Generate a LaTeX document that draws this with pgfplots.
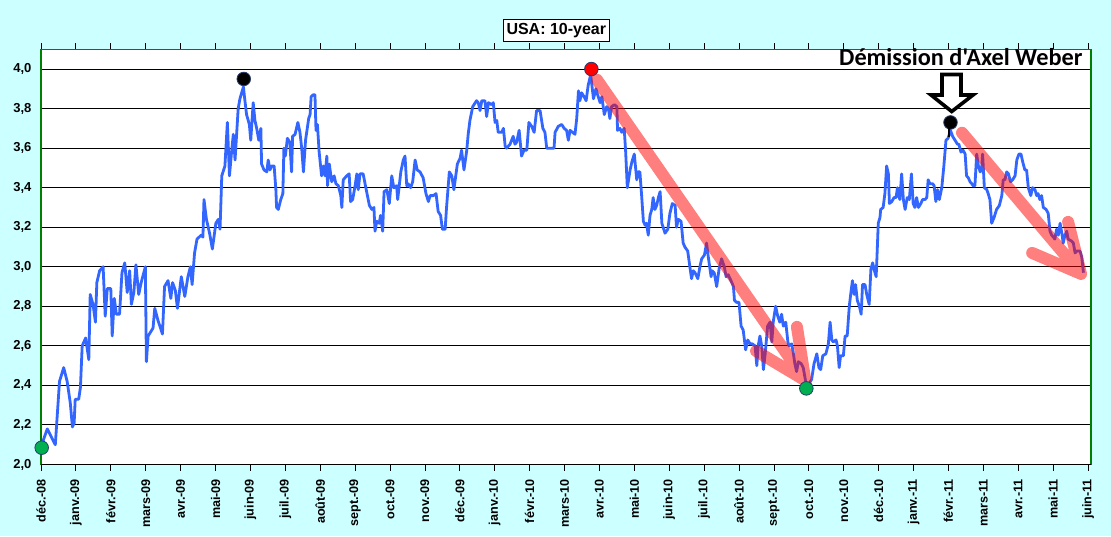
\documentclass[border=0pt]{standalone}
\usepackage{fontspec}
\setmainfont{Liberation Sans}
\newfontfamily\carlito{Carlito}
\usepackage{pgfplots}
\usepackage{pgfplotstable}
\pgfplotsset{compat=1.18}
\definecolor{bg}{RGB}{204,255,255}
\definecolor{linecol}{RGB}{51,102,255}
\definecolor{bord}{RGB}{0,128,0}
\definecolor{mkgreen}{RGB}{0,176,80}
\definecolor{mkedge}{RGB}{40,60,110}
\pgfplotstableread{
m y
0.00 2.09
0.18 2.18
0.41 2.10
0.53 2.42
0.65 2.49
0.75 2.42
0.84 2.31
0.90 2.19
0.95 2.21
0.98 2.33
1.08 2.33
1.13 2.39
1.18 2.60
1.28 2.64
1.37 2.53
1.41 2.86
1.49 2.81
1.56 2.72
1.60 2.92
1.68 2.98
1.78 3.00
1.84 2.75
1.90 2.89
2.00 2.89
2.04 2.65
2.10 2.84
2.16 2.76
2.25 2.76
2.32 2.97
2.40 3.02
2.47 2.87
2.54 2.98
2.59 2.81
2.66 2.87
2.72 3.01
2.80 2.86
2.87 2.92
2.99 3.00
3.02 2.52
3.07 2.65
3.21 2.69
3.26 2.79
3.35 2.73
3.48 2.66
3.54 2.90
3.64 2.93
3.72 2.84
3.77 2.92
3.85 2.88
3.91 2.79
4.02 2.95
4.12 2.85
4.21 2.95
4.28 3.00
4.33 2.91
4.40 3.07
4.47 3.14
4.59 3.16
4.64 3.15
4.67 3.34
4.74 3.24
4.83 3.17
4.91 3.09
5.01 3.22
5.08 3.24
5.13 3.19
5.18 3.46
5.27 3.51
5.34 3.73
5.40 3.46
5.46 3.58
5.51 3.67
5.56 3.54
5.65 3.80
5.70 3.85
5.75 3.88
5.80 3.91
5.83 3.86
5.89 3.77
5.97 3.72
6.01 3.64
6.08 3.83
6.13 3.74
6.18 3.70
6.24 3.64
6.30 3.70
6.32 3.52
6.39 3.49
6.47 3.48
6.51 3.54
6.56 3.49
6.61 3.51
6.68 3.51
6.73 3.39
6.75 3.30
6.80 3.29
6.87 3.34
6.93 3.37
6.96 3.60
7.00 3.56
7.06 3.65
7.13 3.63
7.18 3.48
7.21 3.66
7.28 3.67
7.36 3.73
7.42 3.68
7.47 3.60
7.52 3.48
7.58 3.64
7.67 3.75
7.71 3.77
7.74 3.86
7.80 3.87
7.85 3.87
7.88 3.69
7.92 3.72
7.97 3.58
8.04 3.46
8.09 3.51
8.14 3.46
8.19 3.56
8.21 3.41
8.26 3.52
8.33 3.43
8.40 3.46
8.45 3.42
8.52 3.41
8.59 3.36
8.62 3.30
8.66 3.44
8.76 3.46
8.83 3.47
8.87 3.33
8.93 3.34
9.00 3.41
9.05 3.47
9.09 3.39
9.14 3.47
9.23 3.47
9.33 3.38
9.41 3.31
9.48 3.29
9.54 3.30
9.57 3.18
9.62 3.23
9.69 3.22
9.73 3.26
9.79 3.18
9.83 3.38
9.91 3.39
9.98 3.32
10.05 3.46
10.11 3.40
10.19 3.41
10.22 3.34
10.31 3.48
10.38 3.54
10.43 3.56
10.48 3.41
10.52 3.42
10.59 3.40
10.65 3.43
10.72 3.54
10.78 3.49
10.86 3.48
10.95 3.45
11.03 3.37
11.10 3.33
11.15 3.36
11.24 3.36
11.32 3.37
11.38 3.28
11.45 3.26
11.50 3.19
11.58 3.19
11.62 3.30
11.70 3.48
11.77 3.46
11.83 3.39
11.93 3.52
12.01 3.55
12.05 3.59
12.12 3.49
12.20 3.59
12.24 3.67
12.29 3.74
12.37 3.81
12.48 3.84
12.53 3.83
12.58 3.79
12.63 3.84
12.72 3.84
12.77 3.76
12.82 3.83
12.91 3.82
12.96 3.83
13.01 3.73
13.06 3.74
13.10 3.68
13.20 3.68
13.25 3.70
13.30 3.61
13.34 3.60
13.44 3.62
13.53 3.66
13.58 3.62
13.63 3.63
13.70 3.69
13.77 3.56
13.84 3.59
13.92 3.59
13.98 3.73
14.06 3.71
14.13 3.68
14.20 3.79
14.30 3.79
14.38 3.70
14.44 3.68
14.49 3.60
14.56 3.60
14.63 3.60
14.70 3.60
14.73 3.68
14.82 3.71
14.92 3.72
14.99 3.70
15.06 3.69
15.11 3.64
15.16 3.69
15.23 3.68
15.30 3.67
15.35 3.75
15.40 3.89
15.44 3.84
15.49 3.88
15.56 3.86
15.62 3.84
15.68 3.92
15.75 3.97
15.83 3.85
15.90 3.90
15.95 3.87
16.02 3.83
16.07 3.86
16.14 3.77
16.21 3.81
16.26 3.80
16.30 3.75
16.35 3.81
16.43 3.82
16.50 3.81
16.52 3.69
16.59 3.70
16.64 3.68
16.71 3.70
16.75 3.59
16.80 3.40
16.88 3.49
16.93 3.53
17.00 3.57
17.07 3.44
17.11 3.48
17.16 3.48
17.21 3.36
17.26 3.23
17.31 3.21
17.35 3.22
17.40 3.16
17.45 3.26
17.50 3.29
17.54 3.35
17.59 3.29
17.64 3.31
17.69 3.35
17.74 3.38
17.79 3.22
17.88 3.17
17.96 3.19
18.02 3.27
18.09 3.32
18.17 3.31
18.21 3.20
18.26 3.24
18.34 3.23
18.40 3.12
18.45 3.10
18.53 3.08
18.60 2.99
18.64 2.94
18.69 2.98
18.74 2.97
18.82 2.94
18.88 3.00
18.93 3.04
19.01 3.06
19.07 3.12
19.12 3.05
19.20 2.95
19.23 2.98
19.29 2.97
19.36 2.90
19.43 2.99
19.50 3.04
19.58 3.00
19.63 2.95
19.69 2.96
19.77 2.93
19.84 2.90
19.87 2.83
19.93 2.82
20.00 2.82
20.06 2.70
20.12 2.68
20.19 2.58
20.25 2.63
20.32 2.61
20.38 2.61
20.46 2.60
20.51 2.50
20.55 2.60
20.60 2.65
20.65 2.60
20.70 2.48
20.75 2.56
20.82 2.70
20.89 2.72
20.94 2.62
20.98 2.72
21.05 2.80
21.11 2.75
21.17 2.72
21.22 2.76
21.27 2.70
21.34 2.72
21.40 2.62
21.43 2.60
21.51 2.61
21.56 2.56
21.60 2.51
21.65 2.47
21.70 2.52
21.78 2.51
21.84 2.49
21.91 2.42
21.94 2.39
22.08 2.43
22.15 2.51
22.23 2.56
22.29 2.49
22.34 2.48
22.40 2.55
22.49 2.56
22.56 2.61
22.61 2.72
22.66 2.63
22.70 2.62
22.78 2.63
22.82 2.60
22.87 2.49
22.91 2.55
22.99 2.55
23.04 2.65
23.10 2.65
23.16 2.80
23.20 2.86
23.25 2.93
23.30 2.86
23.34 2.91
23.39 2.83
23.45 2.80
23.50 2.76
23.54 2.91
23.61 2.91
23.66 2.86
23.73 2.81
23.78 2.99
23.83 3.02
23.88 2.98
23.93 2.95
23.96 3.08
23.99 3.22
24.04 3.25
24.06 3.29
24.13 3.30
24.18 3.37
24.23 3.51
24.28 3.47
24.31 3.32
24.38 3.33
24.44 3.35
24.50 3.35
24.54 3.40
24.58 3.36
24.61 3.34
24.66 3.47
24.71 3.34
24.76 3.29
24.82 3.35
24.88 3.34
24.94 3.47
24.99 3.32
25.04 3.30
25.09 3.35
25.14 3.30
25.21 3.32
25.26 3.34
25.33 3.34
25.38 3.35
25.42 3.44
25.47 3.42
25.55 3.42
25.59 3.41
25.64 3.33
25.69 3.39
25.74 3.34
25.81 3.40
25.87 3.51
25.93 3.64
25.99 3.65
26.06 3.69
26.12 3.66
26.19 3.64
26.26 3.62
26.30 3.62
26.36 3.58
26.42 3.59
26.48 3.57
26.52 3.46
26.57 3.45
26.62 3.43
26.67 3.42
26.71 3.41
26.76 3.41
26.81 3.57
26.86 3.51
26.91 3.48
26.95 3.49
26.98 3.57
27.03 3.40
27.10 3.39
27.14 3.37
27.19 3.34
27.24 3.22
27.31 3.25
27.38 3.29
27.46 3.31
27.53 3.36
27.57 3.44
27.62 3.44
27.67 3.48
27.72 3.47
27.78 3.43
27.84 3.44
27.91 3.46
27.96 3.54
28.02 3.57
28.08 3.57
28.13 3.53
28.19 3.49
28.24 3.49
28.29 3.40
28.36 3.36
28.41 3.40
28.48 3.39
28.53 3.36
28.57 3.37
28.62 3.34
28.67 3.36
28.72 3.30
28.80 3.29
28.86 3.27
28.91 3.18
28.96 3.16
29.01 3.15
29.05 3.14
29.10 3.19
29.15 3.16
29.20 3.22
29.25 3.17
29.29 3.12
29.34 3.16
29.39 3.18
29.43 3.14
29.53 3.13
29.58 3.12
29.63 3.07
29.68 3.08
29.77 3.08
29.82 3.05
29.87 2.97
}\usdata
\begin{document}
\begin{tikzpicture}[x=1pt,y=1pt]
\useasboundingbox (0,0) rectangle (1111,536);
\fill[bg] (0,0) rectangle (1111,536);
\begin{axis}[
  at={(41pt,71.5pt)}, anchor=south west,
  width=1050pt, height=415.2pt, scale only axis,
  xmin=0, xmax=30.086, ymin=2.0, ymax=4.1,
  axis background/.style={fill=white},
  axis line style={draw=none},
  clip=false,
  xtick={0,1,...,30},
  xticklabels={déc.-08,janv.-09,févr.-09,mars-09,avr.-09,mai-09,juin-09,juil.-09,août-09,sept.-09,oct.-09,nov.-09,déc.-09,janv.-10,févr.-10,mars-10,avr.-10,mai-10,juin-10,juil.-10,août-10,sept.-10,oct.-10,nov.-10,déc.-10,janv.-11,févr.-11,mars-11,avr.-11,mai-11,juin-11},
  ytick={2.0,2.2,2.4,2.6,2.8,3.0,3.2,3.4,3.6,3.8,4.0},
  ymajorgrids, grid style={black, line width=1pt},
  tick align=outside,
  major tick length=6pt,
  xtick style={black, line width=0.8pt},
  ytick style={draw=none},
  xticklabel shift=5pt,
  /pgf/number format/assume math mode=true,
  yticklabel style={font=\bfseries\fontsize{13}{13}\selectfont,
    /pgf/number format/fixed, /pgf/number format/fixed zerofill,
    /pgf/number format/precision=1, /pgf/number format/use comma},
  xticklabel style={font=\bfseries\fontsize{12.6}{12.6}\selectfont, rotate=90, anchor=east},
]
\addplot[color=linecol, line width=2.8pt, line join=round] table[x=m, y=y] {\usdata};
\draw[red, opacity=0.5, line width=12pt, line cap=round, line join=round]
  (15.93,3.946) -- (21.90,2.425) (21.66,2.696) -- (21.90,2.425) (20.49,2.574) -- (21.90,2.425)
  (26.39,3.678) -- (29.80,2.964) (29.43,3.227) -- (29.80,2.964) (28.40,3.070) -- (29.80,2.964);
\addplot[only marks, mark=*, mark size=6.8pt, mark options={fill=mkgreen, draw=mkedge, line width=0.8pt}]
  coordinates {(0.02,2.085) (21.93,2.385)};
\addplot[only marks, mark=*, mark size=6.8pt, mark options={fill=black, draw=mkedge, line width=0.8pt}]
  coordinates {(5.81,3.95) (26.06,3.73)};
\addplot[only marks, mark=*, mark size=6.8pt, mark options={fill=red, draw=mkedge, line width=0.8pt}]
  coordinates {(15.77,4.00)};
\draw[bord, line width=1.3pt] (rel axis cs:0,0) -- (rel axis cs:0,1) -- (rel axis cs:1,1) -- (rel axis cs:1,0);
\draw[black, line width=1pt] (rel axis cs:0,0) -- (rel axis cs:1,0);
\end{axis}
% title
\node[draw=black, fill=white, line width=1pt, font=\bfseries\fontsize{16}{16}\selectfont,
  inner xsep=3.5pt, inner ysep=0pt, minimum height=22.4pt] at (556.3,505.5) {USA: 10-year};
% annotation
\node[anchor=base west, inner sep=0pt, font=\carlito\bfseries\fontsize{24.3}{24.3}\selectfont]
  at (839,470) {Démission d'Axel Weber};
\draw[black, line width=3.6pt, fill=white, line join=miter]
  (942,461.5) -- (961,461.5) -- (961,441) -- (973,441) -- (951.7,424.5) -- (931,441) -- (942,441) -- cycle;
\draw[black, line width=2pt] (949.3,413) -- (949.3,399);
\end{tikzpicture}
\end{document}
